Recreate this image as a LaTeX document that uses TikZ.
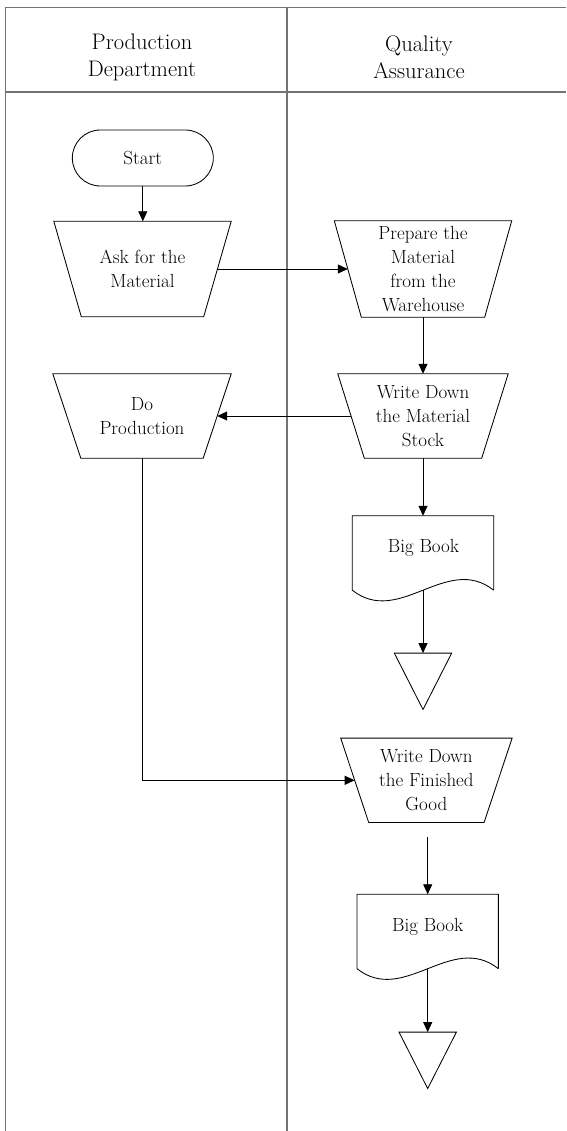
\documentclass[tikz,border=0pt]{standalone}
\usetikzlibrary{arrows.meta,calc}
\newcommand\trapez[2]{%
  \draw[shp] (#1.north west) -- (#1.north east) -- ([xshift=-#2pt]#1.south east) -- ([xshift=#2pt]#1.south west) -- cycle;}
\begin{document}
\begin{tikzpicture}[x=1pt,y=-1pt,
  frame/.style={draw=black!55, line width=1.3pt},
  shp/.style={draw=black, line width=0.85pt},
  conn/.style={draw=black, line width=0.85pt, -{Triangle[length=10pt,width=9pt]}},
  txt/.style={align=center, font=\fontsize{19}{23.8}\selectfont, inner sep=0pt},
  hdr/.style={align=center, font=\fontsize{22.5}{27}\selectfont, inner sep=0pt},
  box/.style={draw=none, inner sep=0pt, align=center, font=\fontsize{19}{23.8}\selectfont}]
\useasboundingbox (0,0) rectangle (566,1131);
\fill[white] (0,0) rectangle (566,1131);
% frame
\draw[frame] (5.5,1131) -- (5.5,7.3) -- (566,7.3);
\draw[frame] (5.5,92) -- (566,92);
\draw[frame] (287,7.3) -- (287,1131);
% headers
\node[hdr] (h1) at (142,57) {Production\\Department};
\node[hdr] (h2) at (419,57) {Quality\\Assurance};
% start
\node[shp, rounded corners=28pt, minimum width=141pt, minimum height=56pt, txt] (start) at (142.8,158) {Start};
% trapezoids
\node[box, minimum width=177pt, minimum height=95pt] (ask) at (142.5,269) {Ask for the\\Material};
\trapez{ask}{27.5}
\node[box, minimum width=177pt, minimum height=96pt] (prep) at (423,269) {Prepare the\\Material\\from the\\Warehouse};
\trapez{prep}{27}
\node[box, minimum width=170pt, minimum height=84pt] (wdm) at (423,416) {Write Down\\the Material\\Stock};
\trapez{wdm}{26.5}
\node[box, minimum width=178pt, minimum height=84pt] (dop) at (142,416) {Do\\Production};
\trapez{dop}{28}
\node[box, minimum width=171pt, minimum height=84pt] (wdfg) at (426.4,780.3) {Write Down\\the Finished\\Good};
\trapez{wdfg}{28}
% documents
\node[box, minimum width=141pt, minimum height=74pt] (bb1) at (423,553) {};
\draw[shp] (bb1.south east) -- (bb1.north east) -- (bb1.north west) -- (bb1.south west) .. controls +(47,37) and +(-47,-37) .. (bb1.south east);
\node[txt] (bb1t) at (423.5,548.3) {Big Book};
\node[box, minimum width=141pt, minimum height=74pt] (bb2) at (427.7,931.5) {};
\draw[shp] (bb2.south east) -- (bb2.north east) -- (bb2.north west) -- (bb2.south west) .. controls +(47,37) and +(-47,-37) .. (bb2.south east);
\node[txt] (bb2t) at (427.8,926.7) {Big Book};
% terminators (triangles)
\node[box, minimum width=57pt, minimum height=56pt] (end1) at (423,681.3) {};
\draw[shp] (end1.north west) -- (end1.north east) -- (end1.south) -- cycle;
\node[box, minimum width=57pt, minimum height=56pt] (end2) at (427.7,1060.3) {};
\draw[shp] (end2.north west) -- (end2.north east) -- (end2.south) -- cycle;
% side points
\coordinate (ask-r) at ($(ask.east)+(-13.75,0)$);
\coordinate (prep-l) at ($(prep.west)+(13.5,0)$);
\coordinate (wdm-l) at ($(wdm.west)+(13.25,0)$);
\coordinate (dop-r) at ($(dop.east)+(-14,0)$);
\coordinate (wdfg-l) at ($(wdfg.west)+(14,0)$);
\coordinate (gap) at (427.7,837.3);
% connectors
\draw[conn] (start.south) -- (start.south |- ask.north);
\draw[conn] (ask-r) -- (prep-l);
\draw[conn] (prep.south) -- (wdm.north);
\draw[conn] (wdm-l) -- (dop-r);
\draw[conn] (dop.south) |- (wdfg-l);
\draw[conn] (wdm.south) -- (bb1.north);
\draw[conn] (bb1.south) -- (end1.north);
\draw[conn] (gap) -- (gap |- bb2.north);
\draw[conn] (bb2.south) -- (end2.north);
\end{tikzpicture}
\end{document}
